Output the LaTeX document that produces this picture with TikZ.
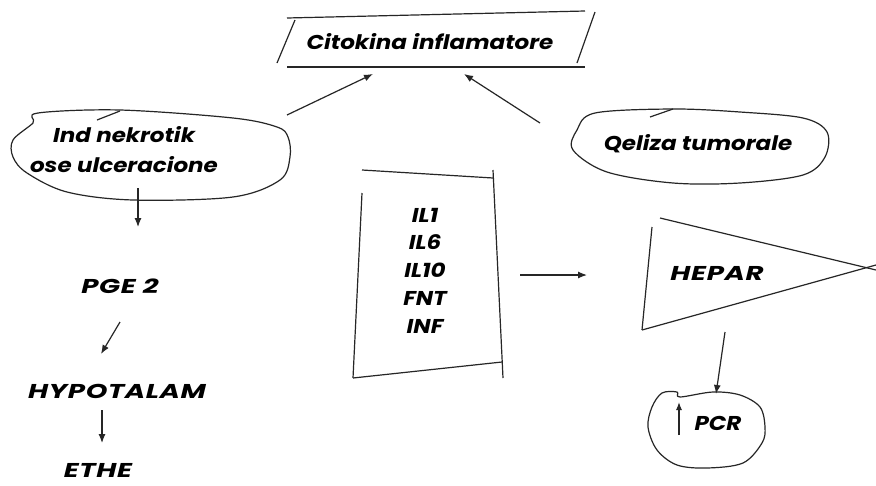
\documentclass[tikz,border=0pt]{standalone}
\usepackage{fontspec}
\setmainfont{Poppins}[FakeStretch=1.15]
\newfontfamily\widecaps{Poppins}[FakeStretch=1.38, LetterSpace=3]
\usetikzlibrary{arrows.meta}
\begin{document}
\begin{tikzpicture}[x=1pt,y=-1pt,
  lbl/.style={font=\bfseries\itshape\fontsize{20}{28}\selectfont, inner sep=0pt, align=center, anchor=base},
  caps/.style={lbl, font=\widecaps\bfseries\itshape\fontsize{20}{28}\selectfont},
  ln/.style={line width=1.2pt, black!85},
  blob/.style={ln, line join=round},
  arr/.style={ln, -{Latex[length=9pt,width=7pt]}},
]
\useasboundingbox[fill=white] (0,0) rectangle (876,485);

% --- Citokina inflamatore (parallelogram)
\draw[ln] (287,18) -- (585,11);
\draw[ln] (287,67) -- (585,67);
\draw[ln] (295,20) -- (277,63);
\draw[ln] (595,12) -- (577,63);
\node[lbl] (cit) at (430,49) {Citokina inflamatore};

% --- Ind nekrotik blob
\draw[blob] plot[smooth cycle, tension=0.55] coordinates {(38,113) (120,110) (233,118) (277,127) (288,137) (290,157) (280,180) (233,197) (133,200) (67,192) (27,173) (13,157) (13,140) (33,123)};
\draw[ln] (97,120) -- (120,111);
\node[lbl, font=\bfseries\itshape\fontsize{20}{30}\selectfont] (ind) at (124,172) {Ind nekrotik\\ose ulceracione};

% --- Qeliza tumorale blob
\draw[blob] plot[smooth cycle, tension=0.55] coordinates {(595,113) (673,109) (740,112) (803,118) (827,132) (825,157) (803,175) (740,183) (673,183) (607,172) (573,150) (577,130)};
\draw[ln] (650,117) -- (673,109);
\node[lbl] (qel) at (698,150) {Qeliza tumorale};

% --- IL box
\draw[ln] (362,170) -- (493,178);
\draw[ln] (493,170) -- (503,378);
\draw[ln] (362,193) -- (353,378);
\draw[ln] (353,378) -- (502,362);
\node[lbl, font=\bfseries\itshape\fontsize{20}{27.7}\selectfont] (il) at (425,333) {IL1\\IL6\\IL10\\FNT\\INF};

% --- HEPAR triangle
\draw[ln] (652,227) -- (642,330);
\draw[ln] (660,218) -- (876,270);
\draw[ln] (642,330) -- (876,265);
\node[caps] (hep) at (717,280) {HEPAR};

% --- PCR blob
\draw[blob] plot[smooth cycle, tension=0.55] coordinates {(662,393) (677,392) (680,397) (713,392) (740,395) (760,407) (765,427) (762,443) (743,463) (707,468) (677,465) (657,450) (648,427) (652,407)};
\node[lbl] (pcr) at (718,430) {PCR};
\coordinate (upb) at (679,435);
\coordinate (upt) at (679,402);
\draw[ln, -{Latex[length=8pt,width=6pt]}] (upb) -- (upt);

% --- left chain
\node[caps] (pge) at (120,293) {PGE 2};
\node[caps] (hyp) at (117,398) {HYPOTALAM};
\node[caps] (ethe) at (98,477) {ETHE};

% --- connector end points
\coordinate (a1s) at (287,115);
\coordinate (a1e) at (373,74);
\coordinate (a2s) at (540,123);
\coordinate (a2e) at (464,74);
\coordinate (a3s) at (138,188);
\coordinate (a3e) at (138,227);
\coordinate (a4s) at (120,322);
\coordinate (a4e) at (101,354);
\coordinate (a5s) at (102,410);
\coordinate (a5e) at (102,443);
\coordinate (a6s) at (520,275);
\coordinate (a6e) at (587,275);
\coordinate (a7s) at (725,332);
\coordinate (a7e) at (716,394);

\draw[arr] (a1s) -- (a1e);
\draw[arr] (a2s) -- (a2e);
\draw[arr] (a3s) -- (a3e);
\draw[arr] (a4s) -- (a4e);
\draw[arr] (a5s) -- (a5e);
\draw[arr] (a6s) -- (a6e);
\draw[arr] (a7s) -- (a7e);
\end{tikzpicture}
\end{document}
